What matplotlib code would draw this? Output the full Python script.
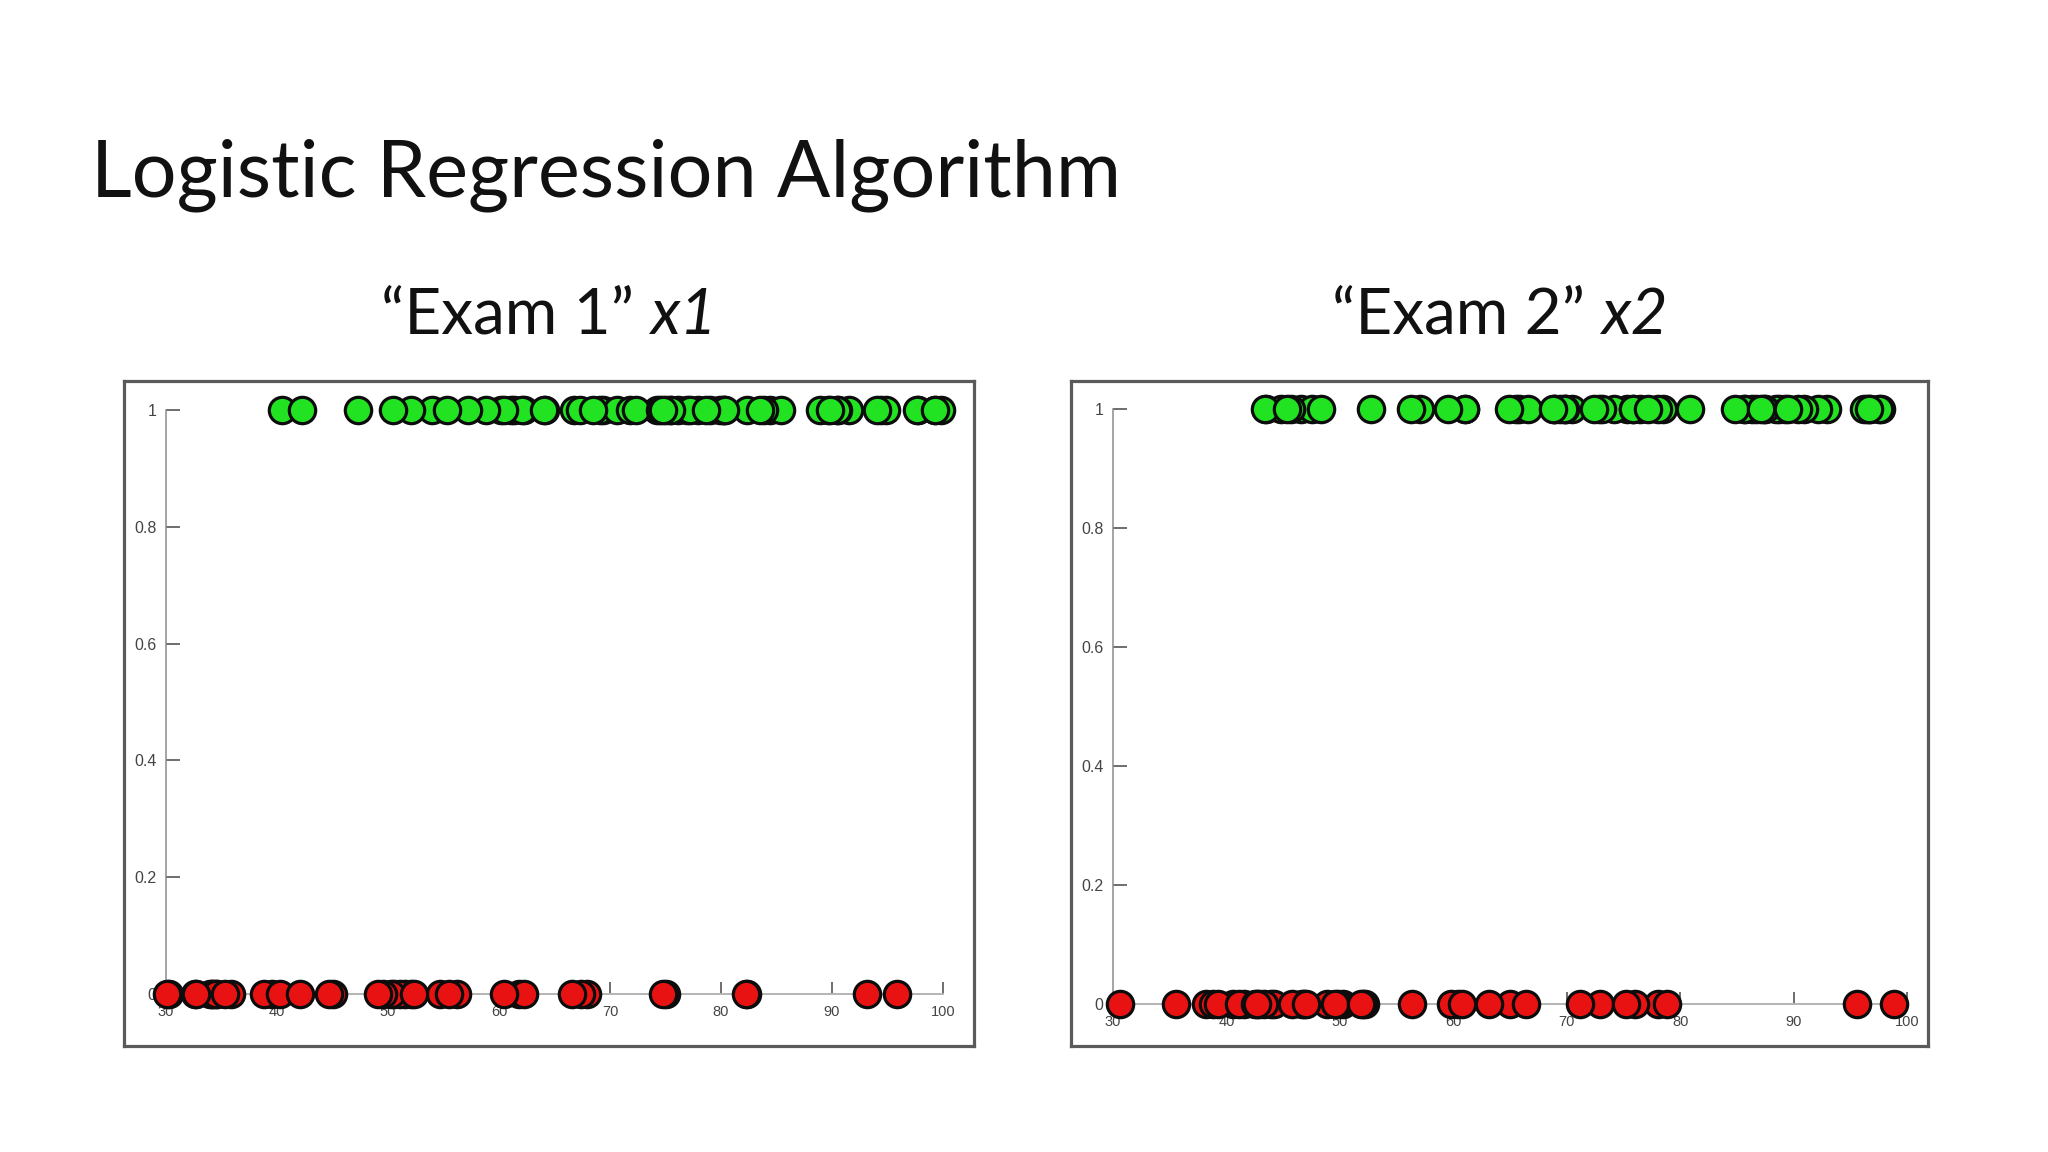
import matplotlib
matplotlib.use("Agg")
import matplotlib.pyplot as plt

# ---- data (exam scores, admitted = 1 / not admitted = 0) ----
exam1_admitted = [60.18, 79.03, 61.11, 75.02, 76.10, 84.43, 82.31, 69.36, 53.97, 69.07,
                  70.66, 76.98, 89.68, 77.92, 62.27, 80.19, 61.38, 85.40, 52.05, 64.18,
                  83.90, 94.44, 77.19, 97.77, 62.07, 91.56, 79.94, 99.27, 90.55, 97.65,
                  74.25, 71.80, 75.40, 40.46, 80.28, 66.75, 64.04, 72.35, 60.46, 58.84,
                  99.83, 47.26, 50.46, 88.91, 94.83, 67.32, 57.24, 80.37, 68.47, 75.48,
                  78.64, 94.09, 90.45, 74.49, 89.85, 83.49, 42.26, 99.32, 55.34, 74.78]
exam1_rejected = [34.62, 30.29, 35.85, 45.08, 95.86, 75.01, 39.54, 67.95, 67.37, 50.53,
                  34.21, 93.11, 61.83, 38.79, 52.11, 40.24, 54.64, 33.92, 34.18, 74.79,
                  51.55, 82.37, 51.05, 62.22, 34.52, 50.29, 49.59, 32.58, 35.29, 56.25,
                  30.06, 44.67, 66.56, 49.07, 32.72, 60.46, 82.23, 42.08, 52.35, 55.48]
exam2_admitted = [86.31, 75.34, 96.51, 46.55, 87.42, 43.53, 76.48, 97.72, 89.21, 52.74,
                  92.93, 47.58, 65.80, 68.97, 69.95, 44.82, 72.81, 57.05, 69.43, 80.91,
                  56.31, 65.57, 70.46, 86.73, 96.77, 88.70, 74.16, 61.00, 43.39, 68.86,
                  69.82, 78.45, 85.76, 97.54, 92.12, 60.99, 78.03, 96.23, 73.09, 75.86,
                  72.37, 88.48, 75.81, 69.80, 45.69, 66.59, 59.51, 90.96, 85.59, 90.42,
                  96.65, 77.16, 87.51, 84.85, 45.36, 48.38, 87.10, 68.78, 64.93, 89.53]
exam2_rejected = [78.02, 43.89, 72.90, 56.32, 38.23, 30.60, 76.04, 46.68, 42.84, 48.86,
                  44.21, 38.80, 50.26, 65.00, 63.13, 71.17, 52.21, 98.87, 75.24, 41.57,
                  46.86, 40.62, 45.82, 52.06, 60.40, 49.80, 59.81, 95.60, 47.02, 39.26,
                  49.59, 66.45, 41.09, 51.88, 43.31, 42.51, 42.72, 78.84, 60.77, 35.57]

x_ticks = [30, 40, 50, 60, 70, 80, 90, 100]
y_ticks = [0, 0.2, 0.4, 0.6, 0.8, 1]
y_ticklabels = ["0", "0.2", "0.4", "0.6", "0.8", "1"]

title = "Logistic Regression Algorithm"
panel_titles_plain = ["\u201cExam 1\u201d ", "\u201cExam 2\u201d "]
panel_titles_italic = ["x1", "x2"]

W, H = 2048, 1152
fig = plt.figure(figsize=(W / 100, H / 100), dpi=100)
fig.patch.set_facecolor("white")
renderer = fig.canvas.get_renderer()


def rect(x0, y0, x1, y1):
    return [x0 / W, 1 - y1 / H, (x1 - x0) / W, (y1 - y0) / H]


fig.text(91 / W, 1 - 196 / H, title, fontsize=57, family="Lato",
         color="#111111", ha="left", va="baseline")

frames = [(124, 381, 974, 1046), (1071, 381, 1928, 1046)]
inner = [(166, 410, 943, 994), (1113, 409, 1907, 1004)]
data = [(exam1_admitted, exam1_rejected), (exam2_admitted, exam2_rejected)]

GREEN = "#22e322"
RED = "#e81212"
SUB_FS = 46

for i in range(2):
    fx0, fy0, fx1, fy1 = frames[i]
    # subtitle: plain part + italic part, centred together over the panel
    t1 = fig.text(0, 1 - 334 / H, panel_titles_plain[i], fontsize=SUB_FS, family="Lato",
                  color="#111111", ha="left", va="baseline")
    t2 = fig.text(0, 1 - 334 / H, panel_titles_italic[i], fontsize=SUB_FS, family="Lato",
                  style="italic", color="#111111", ha="left", va="baseline")
    w1 = t1.get_window_extent(renderer).width
    w2 = t2.get_window_extent(renderer).width
    cx = (fx0 + fx1) / 2
    start = cx - (w1 + w2) / 2
    t1.set_x(start / W)
    t2.set_x((start + w1) / W)

    fa = fig.add_axes(rect(*frames[i]))
    fa.set_xticks([])
    fa.set_yticks([])
    fa.set_facecolor("white")
    for sp in fa.spines.values():
        sp.set_color("#5a5a5a")
        sp.set_linewidth(2.3)

    ax = fig.add_axes(rect(*inner[i]))
    ax.patch.set_alpha(0)
    ax.set_xlim(30, 100)
    ax.set_ylim(0, 1)
    ax.spines["top"].set_visible(False)
    ax.spines["right"].set_visible(False)
    ax.spines["left"].set_color("#8c8c8c")
    ax.spines["left"].set_linewidth(1.1)
    ax.spines["bottom"].set_color("#b4b4b4")
    ax.spines["bottom"].set_linewidth(1.4)

    ax.set_xticks(x_ticks)
    ax.set_xticklabels([str(t) for t in x_ticks])
    ax.set_yticks(y_ticks)
    ax.set_yticklabels(y_ticklabels)
    ax.tick_params(axis="y", direction="in", length=10, width=1.2, color="#555555",
                   pad=7, labelsize=11.5, labelcolor="#444444")
    ax.tick_params(axis="x", direction="in", length=8.5, width=1.2, color="#555555",
                   pad=8, labelsize=10.5, labelcolor="#444444")
    for lab in ax.get_xticklabels() + ax.get_yticklabels():
        lab.set_family("Liberation Sans")

    adm, rej = data[i]
    ax.scatter(adm, [1] * len(adm), s=360, c=GREEN, edgecolors="#0c0c0c",
               linewidths=2.3, clip_on=False, zorder=3)
    ax.scatter(rej, [0] * len(rej), s=360, c=RED, edgecolors="#0c0c0c",
               linewidths=2.3, clip_on=False, zorder=3)

fig.savefig("out.png", dpi=100, facecolor="white")
